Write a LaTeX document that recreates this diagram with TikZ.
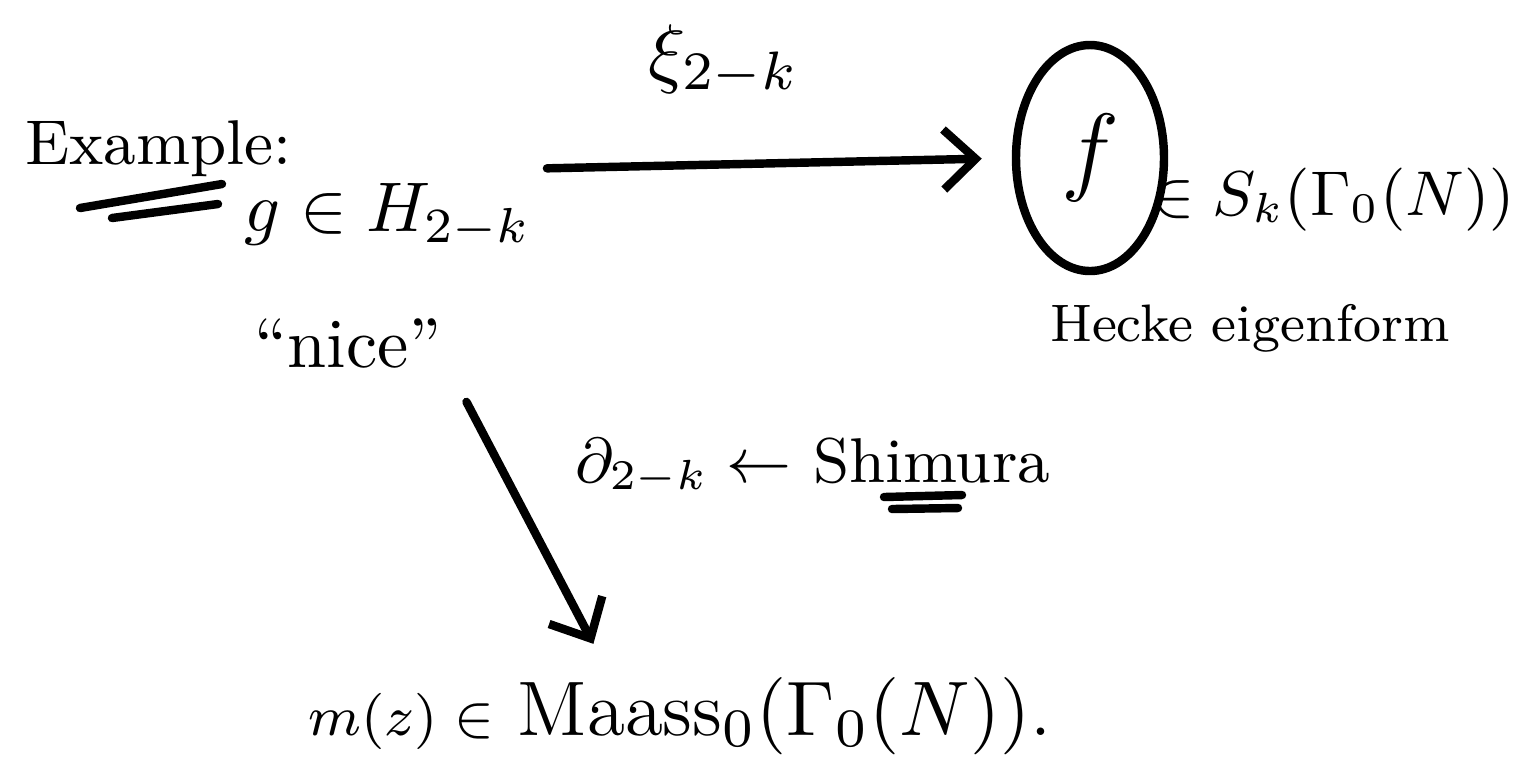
\RequirePackage{fix-cm}
\documentclass[tikz,border=0pt]{standalone}
\usepackage{fontspec}
\usetikzlibrary{arrows.meta,positioning,shapes.geometric}

\tikzset{
  hand/.style={line width=1.2pt, line cap=round, line join=round},
  handarrow/.style={hand, -{Straight Barb[length=1.6mm,width=3mm]}},
  txt/.style={font=\fontsize{#1}{#1}\selectfont, inner sep=2pt},
}

\begin{document}
\begin{tikzpicture}[x=0.05mm, y=-0.05mm]
  \useasboundingbox (0,0) rectangle (1529,769);

  % heading
  \node[txt=9, anchor=base west] (ex) at (10,164) {Example:};
  \draw[hand] (80,208) -- (222,184);
  \draw[hand] (112,218) -- (218,204);

  % objects
  \node[txt=10] (g) at (388,216) {$g\in H_{2-k}$};
  \node[txt=10, below=2mm of g, xshift=-2mm] (nice) {``nice''};
  \node[txt=14, ellipse, draw, hand, minimum width=7.4mm, minimum height=11.3mm, inner sep=0pt] (f) at (1090,158) {$f$};
  \node[txt=9, anchor=base west, inner sep=0pt] (sk) at (1150,215) {$\in S_k(\Gamma_0(N))$};
  \node[txt=7.5] (hecke) at (1250,328) {Hecke eigenform};
  \node[inner sep=2pt, anchor=base] (m) at (680,735) {{\fontsize{8}{8}\selectfont $m(z)\in$}\ {\fontsize{11}{11}\selectfont $\mathrm{Maass}_0(\Gamma_0(N))$.}};

  % maps
  \draw[handarrow, shorten >=1.5mm] (g.north east) -- node[txt=11, pos=0.38, above=2.5mm] (xi) {$\xi_{2-k}$} (f.west);
  \draw[handarrow, shorten <=1mm, shorten >=1mm] (nice.south east) -- (m.145);
  \node[txt=9, anchor=base west] (dlab) at (560,482) {$\partial_{2-k}\leftarrow$ Shimura};
  \draw[hand] (884,497) -- (962,495);
  \draw[hand] (892,509) -- (958,508);
\end{tikzpicture}
\end{document}
